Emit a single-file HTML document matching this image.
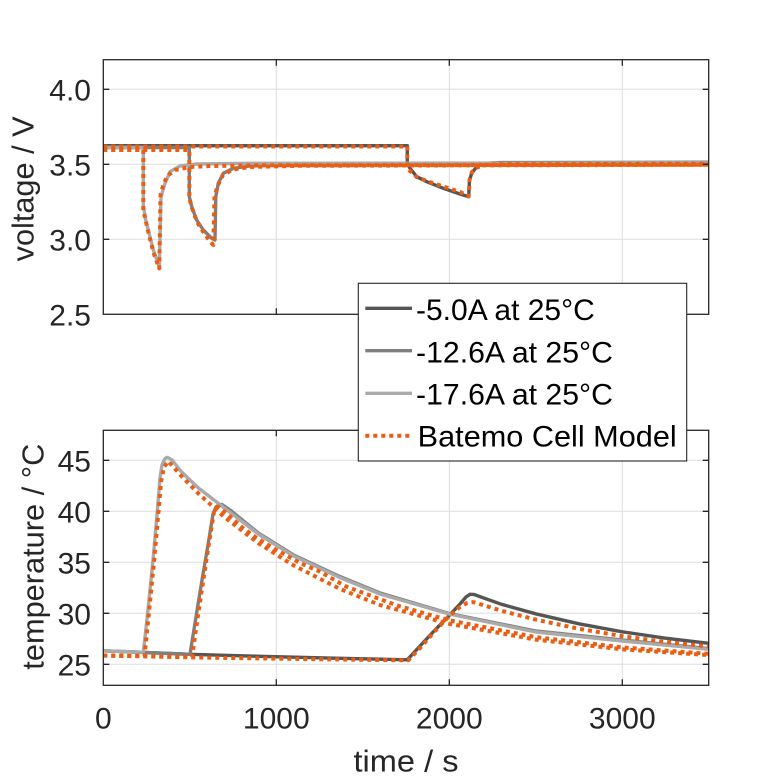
<!DOCTYPE html>
<html><head><meta charset="utf-8">
<style>
html,body{margin:0;padding:0;background:#fff;}
svg{display:block;}
text{font-family:"Liberation Sans",Arial,sans-serif;}
</style></head>
<body>
<svg width="781" height="781" viewBox="0 0 781 781" xmlns="http://www.w3.org/2000/svg">
<defs>
<clipPath id="ct"><rect x="103.3" y="59.7" width="605.4" height="254.6"/></clipPath>
<clipPath id="cb"><rect x="103.3" y="430.3" width="605.4" height="255"/></clipPath>
</defs>
<rect width="781" height="781" fill="#fff"/>

<!-- grid -->
<g stroke="#dedede" stroke-width="1" fill="none">
<path d="M103.3,89.3H708.7M103.3,164.3H708.7M103.3,239.3H708.7"/>
<path d="M276.3,59.7V314.3M449.3,59.7V314.3M622.3,59.7V314.3"/>
<path d="M103.3,460.3H708.7M103.3,511.3H708.7M103.3,562.3H708.7M103.3,613.3H708.7M103.3,664.3H708.7"/>
<path d="M276.3,430.3V685.3M449.3,430.3V685.3M622.3,430.3V685.3"/>
</g>

<!-- top series -->
<g clip-path="url(#ct)" fill="none" stroke-linejoin="round">
<polyline stroke="#555555" stroke-width="3.4" points="103.3,145.7 407.3,145.7 407.3,163.3 410,168.3 416.7,176.7 426.7,181.7 443.3,188.3 460,194 468.7,196.7 469.5,180 471.7,173.3 476.7,166.7 483.3,163.5 500,162.6 708.7,162.3"/>
<polyline stroke="#7f7f7f" stroke-width="3.4" points="103.3,147.5 189.3,147.5 189.3,196.7 191.7,206.7 196.7,220 203.3,230 211.7,238.3 215,240 215.8,196.7 218.3,183.3 223.3,173.3 233.3,168.3 250,166 300,164.8 400,164 708.7,163.3"/>
<polyline stroke="#aaaaaa" stroke-width="3.4" points="103.3,147.5 143.3,147.5 143.3,205 146,222 148.3,230 153.3,250 159.3,266.7 161,196.7 165,183.3 170,171.7 180,166 196.7,164 250,163.3 708.7,162.8"/>
<g stroke="#eb5e12" stroke-width="4" stroke-dasharray="4 4">
<polyline points="103.3,146.5 407.3,146.5 407.3,168 410,171 416.7,177 426.7,181 443.3,186.5 460,192 468.7,196 469.5,180 472,172 477,167.5 485,165 500,164.2 708.7,163.8"/>
<polyline points="103.3,150 189.3,150 189.3,198 192,208 197,222 203.3,232 209,240 213.3,245 214.5,196 218,185 223,175 233,169.5 250,167 300,165.8 708.7,164.8"/>
<polyline points="103.3,150 143.3,150 143.3,210 148.3,232 153.3,252 159.3,268.5 160.5,195 163,186 167,176 175,170 190,167 210,166 260,165.3 708.7,164.8"/>
</g>
</g>

<!-- bottom series -->
<g clip-path="url(#cb)" fill="none" stroke-linejoin="round">
<polyline stroke="#555555" stroke-width="3.4" points="103.3,650.8 190,654.3 260,656.3 340,658.3 407.3,659.8 420,646 435,630 448.3,616.5 460,604 466,597 470,594.3 474,594.5 501.1,604.2 535.7,613.8 579,623.8 622.2,631.8 665.5,638.2 708.7,643.3"/>
<polyline stroke="#7f7f7f" stroke-width="3.4" points="103.3,650.8 143,652.3 190,654.3 196,617 202,580 208,545 213,514 216,507 219,504.8 222,504.5 230,510 259,533.5 293.6,555 339.8,576.5 380,593 449.2,613.5 535.7,631 622.2,640 708.7,648.6"/>
<polyline stroke="#aaaaaa" stroke-width="3.4" points="103.3,650.8 143.3,652.3 148,610 153,560 157,515 160,478 162,465 165,458.5 167.3,457.3 172,460 181.1,471.5 198.4,488 224.4,508 259,534.5 293.6,556 339.8,577.5 380,594 449.2,614 535.7,632 622.2,641 708.7,649.3"/>
<g stroke="#eb5e12" stroke-width="4" stroke-dasharray="4 4">
<polyline points="103.3,655.5 200,657.5 300,659 408.3,660.3 420,648 435,631 448.3,617 460,607 467,603 473.5,602.1 501.1,610.6 535.7,619.6 579,628.8 622.2,636.1 665.5,642 708.7,646.5"/>
<polyline points="103.3,655.5 192,657 197,622 203,582 209,543 214,512 216.5,508 218.3,506.7 230,516.5 243.3,528.3 256.7,538 276.3,549.9 300,563 320,571.7 345.5,586.3 397.4,605.6 449.2,620.3 535.7,637.1 622.2,647.4 708.7,653.8"/>
<polyline points="103.3,655.5 144.5,656 149,612 154,562 158,517 161,482 164,467 168.3,461.3 181.1,475.7 198.4,493.5 224.4,517.1 259,543.6 293.6,565.4 339.8,588.9 380,605 449.2,623.8 535.7,639.6 622.2,649.3 708.7,655.1"/>
</g>
</g>

<!-- axes boxes and ticks -->
<g stroke="#262626" stroke-width="1.3" fill="none">
<rect x="103.3" y="59.7" width="605.4" height="254.6"/>
<rect x="103.3" y="430.3" width="605.4" height="255"/>
<path d="M103.3,89.3h6M103.3,164.3h6M103.3,239.3h6M708.7,89.3h-6M708.7,164.3h-6M708.7,239.3h-6"/>
<path d="M276.3,314.3v-6M449.3,314.3v-6M622.3,314.3v-6M276.3,59.7v6M449.3,59.7v6M622.3,59.7v6"/>
<path d="M103.3,460.3h6M103.3,511.3h6M103.3,562.3h6M103.3,613.3h6M103.3,664.3h6M708.7,460.3h-6M708.7,511.3h-6M708.7,562.3h-6M708.7,613.3h-6M708.7,664.3h-6"/>
<path d="M276.3,685.3v-6M449.3,685.3v-6M622.3,685.3v-6M276.3,430.3v6M449.3,430.3v6M622.3,430.3v6"/>
</g>

<!-- tick labels -->
<g fill="#262626" font-size="30" text-anchor="end">
<text x="91" y="100.5">4.0</text>
<text x="91" y="175.5">3.5</text>
<text x="91" y="250.5">3.0</text>
<text x="91" y="325.5">2.5</text>
<text x="91" y="471.3">45</text>
<text x="91" y="522.3">40</text>
<text x="91" y="573.3">35</text>
<text x="91" y="624.3">30</text>
<text x="91" y="675.3">25</text>
</g>
<g fill="#262626" font-size="30" text-anchor="middle">
<text x="103.3" y="728.3">0</text>
<text x="276.3" y="728.3">1000</text>
<text x="449.3" y="728.3">2000</text>
<text x="622.3" y="728.3">3000</text>
</g>

<!-- axis labels -->
<g fill="#262626" font-size="31" text-anchor="middle">
<text x="406" y="771.5" textLength="105" lengthAdjust="spacingAndGlyphs">time / s</text>
<text transform="translate(33.3,188.9) rotate(-90)" textLength="145" lengthAdjust="spacingAndGlyphs">voltage / V</text>
<text transform="translate(43.5,556.7) rotate(-90)" textLength="226" lengthAdjust="spacingAndGlyphs">temperature / °C</text>
</g>

<!-- legend -->
<rect x="358.3" y="283.3" width="328.4" height="177.7" fill="#fff" stroke="#262626" stroke-width="1.1"/>
<g fill="none">
<path d="M365.3,308.3H412" stroke="#555555" stroke-width="3.4"/>
<path d="M365.3,350.7H412" stroke="#7f7f7f" stroke-width="3.4"/>
<path d="M365.3,393.3H412" stroke="#aaaaaa" stroke-width="3.4"/>
<path d="M365.3,435.7H412" stroke="#eb5e12" stroke-width="4" stroke-dasharray="4 4"/>
</g>
<g fill="#000" font-size="30">
<text x="416" y="320">-5.0A at 25°C</text>
<text x="416" y="362.3" textLength="197" lengthAdjust="spacingAndGlyphs">-12.6A at 25°C</text>
<text x="416" y="404.3" textLength="197" lengthAdjust="spacingAndGlyphs">-17.6A at 25°C</text>
<text x="417.7" y="446.3" textLength="259" lengthAdjust="spacingAndGlyphs">Batemo Cell Model</text>
</g>
</svg>
</body></html>
